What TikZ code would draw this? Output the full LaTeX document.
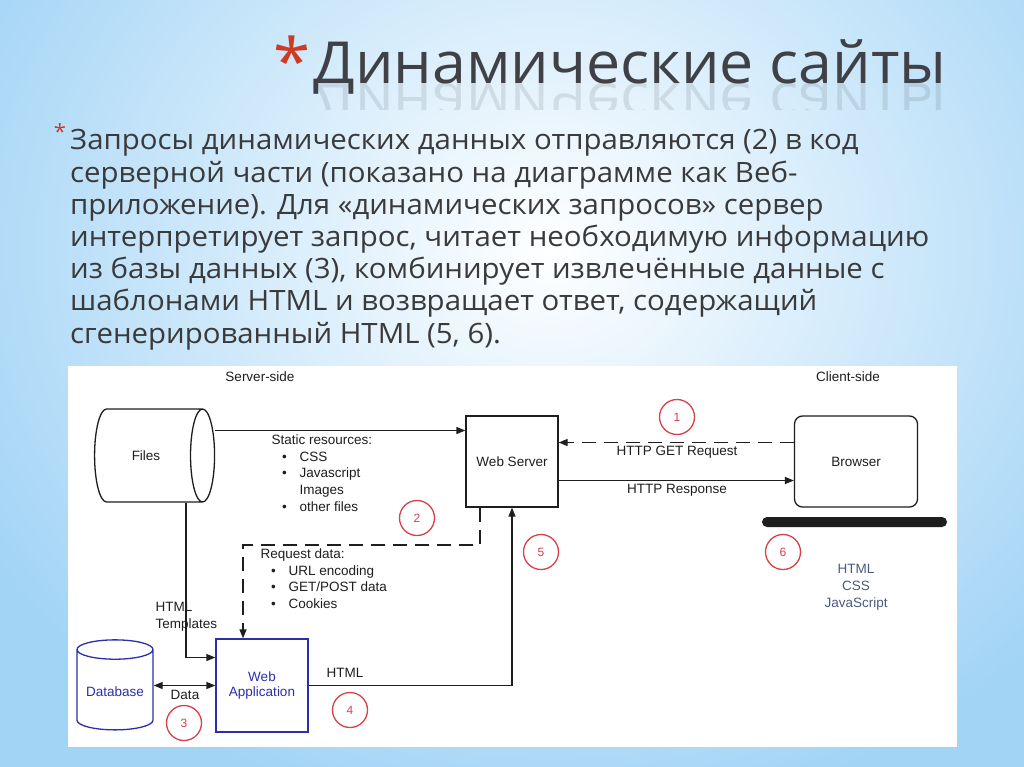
\documentclass[tikz,border=0pt]{standalone}
\usepackage{fontspec}
\setmainfont{Liberation Sans}
\newfontfamily\wsSlideFont[FakeStretch=1.05]{Open Sans}
\usetikzlibrary{arrows.meta,positioning,shapes.geometric}
\definecolor{wsInk}{HTML}{1E1E1E}
\definecolor{wsText}{HTML}{3A3A3A}
\definecolor{wsTitle}{HTML}{404147}
\definecolor{wsSky}{HTML}{A2D4F6}
\definecolor{wsRed}{HTML}{D8414A}
\definecolor{wsAccent}{HTML}{CF3A22}
\definecolor{wsBlue}{HTML}{2C30A8}
\definecolor{wsSlate}{HTML}{4A5A80}
\newcommand{\wsItem}[1]{\hspace*{8pt}\makebox[10pt][c]{\textbullet}\hspace*{10pt}#1}
\tikzset{
  ws panel/.style={fill=white},
  ws box/.style={
    draw=wsInk,
    line width=1.3pt,
    minimum width=92pt,
    minimum height=91pt,
    font=\fontsize{13.5}{15}\selectfont,
    text=wsInk
  },
  ws store/.style={
    cylinder,
    draw=wsInk,
    line width=1.3pt,
    font=\fontsize{13.5}{15}\selectfont,
    text=wsInk
  },
  ws link/.style={
    draw=wsInk,
    line width=1.3pt,
    -{Triangle[length=9pt,width=7pt]}
  },
  ws request/.style={
    ws link,
    dash pattern=on 14pt off 8pt
  },
  ws marker/.style={
    circle,
    draw=wsRed,
    line width=1.3pt,
    minimum size=35pt,
    inner sep=0pt,
    text=wsRed,
    font=\fontsize{12}{12}\selectfont
  },
  ws label/.style={font=\fontsize{13.5}{16.7}\selectfont, text=wsInk, align=left},
  ws caption/.style={font=\fontsize{13.5}{15}\selectfont, text=wsInk},
  ws title/.style={font=\wsSlideFont\fontsize{58}{60}\selectfont, text=wsTitle},
  ws body/.style={font=\wsSlideFont\fontsize{28}{32.2}\selectfont, text=wsText, align=left},
  ws star/.style={text=wsAccent, inner sep=0pt}
}

\begin{document}
\begin{tikzpicture}[x=1pt,y=-1pt]
  \useasboundingbox (0,0) rectangle (1024,767);
  \clip (0,0) rectangle (1024,767);
  \shade[inner color=white, outer color=wsSky] (-110,-330) rectangle (1210,830);

  % slide heading and text
  \node[ws star, font=\wsSlideFont\fontsize{64}{64}\selectfont] (titleStar) at (292,60) {*};
  \node[ws title, anchor=base west] (title) at (310,84) {Динамические сайты};
  \begin{scope}
    \clip (300,84) rectangle (960,110);
    \node[ws title, anchor=base west, yscale=-1, opacity=.13] (titleMirror) at (310,84) {Динамические сайты};
  \end{scope}
  \node[ws star, font=\wsSlideFont\fontsize{21}{21}\selectfont] (bodyStar) at (60,132) {*};
  \node[ws body, anchor=north west, inner sep=0pt] (body) at (70,129.5) {Запросы динамических данных отправляются (2) в код\\
    серверной части (показано на диаграмме как Веб-\\
    приложение). Для «динамических запросов» сервер\\
    интерпретирует запрос, читает необходимую информацию\\
    из базы данных (3), комбинирует извлечённые данные с\\
    шаблонами HTML и возвращает ответ, содержащий\\
    сгенерированный HTML (5, 6).};

  % diagram
  \path[ws panel] (68,366) rectangle (957,747);
  \node[ws caption] (serverSide) at (260,377) {Server-side};
  \node[ws caption] (clientSide) at (848,377) {Client-side};

  \node[ws store, minimum width=93pt, minimum height=120pt, shape aspect=1.45] (Files) at (146,455.5) {Files};
  \node[ws box] (WebServer) at (512,461.5) {Web Server};
  \node[ws box, rounded corners=8pt, minimum width=123pt] (Browser) at (856,461.5) {Browser};
  \node[ws box, draw=wsBlue, text=wsBlue, minimum height=93pt, align=center] (WebApp) at (262,685.5) {Web\\Application};
  \node[ws store, draw=wsBlue, text=wsBlue, shape border rotate=90, minimum width=76pt, minimum height=90pt, shape aspect=.3] (Database) at (115,692) {Database};
  \fill[wsInk, rounded corners=5pt] (762,517) -- (947,517) -- (947,527) -- (762,527) -- cycle;

  \draw[ws link] ([yshift=25pt]Files.east) -- ([yshift=25pt]Files.east -| WebServer.west);
  \draw[ws request] ([yshift=19pt]Browser.west) -- ([yshift=19pt]Browser.west -| WebServer.east);
  \draw[ws link] ([yshift=-19pt]WebServer.east) -- ([yshift=-19pt]WebServer.east -| Browser.west);
  \coordinate (reqBend) at (243,545);
  \draw[ws request] ([xshift=-32pt]WebServer.south) |- (reqBend) -- (reqBend |- WebApp.north);
  \draw[ws link] ([xshift=40pt]Files.south) |- ([yshift=28pt]WebApp.west);
  \draw[ws link, {Triangle[length=9pt,width=7pt]}-{Triangle[length=9pt,width=7pt]}] (WebApp.west -| Database.east) -- (WebApp.west);
  \draw[ws link] (WebApp.east) -| (WebServer.south);

  \node[ws label, anchor=north west] (staticList) at (268,431) {Static resources:\\
    \wsItem{CSS}\\
    \wsItem{Javascript}\\
    \hspace*{28pt}Images\\
    \wsItem{other files}};
  \node[ws label, anchor=north west] (requestList) at (257,545) {Request data:\\
    \wsItem{URL encoding}\\
    \wsItem{GET/POST data}\\
    \wsItem{Cookies}};
  \node[ws label, anchor=north west] (templates) at (152,599) {HTML\\Templates};
  \node[ws caption] (getLabel) at (677,452) {HTTP GET Request};
  \node[ws caption] (responseLabel) at (677,490) {HTTP Response};
  \node[ws caption] (dataLabel) at (185,695) {Data};
  \node[ws caption] (htmlLabel) at (345,673) {HTML};
  \node[ws label, text=wsSlate, align=center, anchor=north] (clientFiles) at (856,561) {HTML\\CSS\\JavaScript};

  \node[ws marker] (step1) at (677,417) {1};
  \node[ws marker] (step2) at (417,518) {2};
  \node[ws marker] (step3) at (184,723) {3};
  \node[ws marker] (step4) at (350,710) {4};
  \node[ws marker] (step5) at (541,552) {5};
  \node[ws marker] (step6) at (783,552) {6};
\end{tikzpicture}
\end{document}
